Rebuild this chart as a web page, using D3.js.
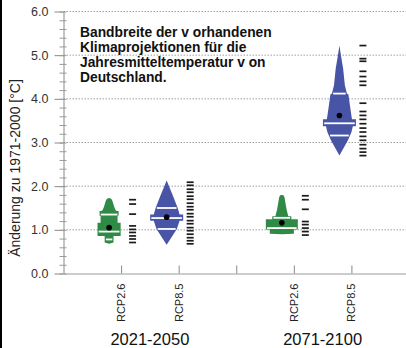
<!DOCTYPE html>
<html><head><meta charset="utf-8">
<script src="https://cdn.jsdelivr.net/npm/d3@7"></script>
<style>body{margin:0;background:#fff}svg{display:block}</style>
</head><body><svg id="c" width="406" height="348"></svg>
<script>
// ---- data ----
const categories = ["RCP2.6", "RCP8.5", "RCP2.6", "RCP8.5"];
const categoryPositions = [1, 2, 4, 5];
const periods = ["2021-2050", "2071-2100"];
const periodPositions = [1.5, 4.5];
const yTicks = [0, 1, 2, 3, 4, 5, 6];
const yMinorTicks = d3.range(0, 30.5, 1).map(d => d / 5);
const titleLines = ["Bandbreite der v orhandenen", "Klimaprojektionen für die", "Jahresmitteltemperatur v on", "Deutschland."];
const yLabel = "Änderung zu 1971-2000 [°C]";

// violin profiles: [temperature change, relative density]
const profileRcp26_2021 = [[1.73,0],[1.72,9],[1.69,17],[1.62,23],[1.54,29],[1.46,37],[1.43,44],[1.43,56],[1.32,56],[1.32,50],[1.16,50],[1.16,68],[0.86,68],[0.86,26],[0.71,26],[0.68,0]];
const profileRcp85_2021 = [[2.13,0],[1.80,35],[1.50,65],[1.35,76],[1.35,97],[1.21,97],[1.21,76],[1.02,60],[0.66,0]];
const profileRcp26_2071 = [[1.80,0],[1.79,10],[1.74,16],[1.60,22],[1.45,29],[1.31,38],[1.31,56],[1.24,56],[1.24,94],[1.01,94],[1.01,71],[0.91,71],[0.90,0]];
const profileRcp85_2071 = [[5.22,0],[4.99,9],[4.69,22],[4.31,32],[4.12,44],[4.10,53],[3.85,62],[3.60,71],[3.53,74],[3.53,97],[3.37,97],[3.37,79],[3.24,71],[3.05,50],[2.70,0]];
const profiles = [profileRcp26_2021, profileRcp85_2021, profileRcp26_2071, profileRcp85_2071];

// percentile lines
const percentiles = [[1.35, 0.96, 0.78], [1.50, 1.27, 1.02], [1.275, 1.04], [4.12, 3.44, 3.16]];
// ensemble means
const means = [1.05, 1.29, 1.16, 3.62];
// individual model results
const rugRcp26_2021 = [1.69, 1.59, 1.36, 1.09, 1.01, 0.94, 0.86, 0.79, 0.71];
const rugRcp85_2021 = [2.09, 2.02, 1.93, 1.86, 1.77, 1.70, 1.61, 1.53, 1.46, 1.37, 1.30, 1.21, 1.14, 1.05, 0.98, 0.90, 0.82, 0.75, 0.68];
const rugRcp26_2071 = [1.78, 1.69, 1.47, 1.19, 1.12, 1.04, 0.96, 0.88];
const rugRcp85_2071 = [5.22, 4.92, 4.86, 4.63, 4.51, 4.40, 4.31, 3.90, 3.71, 3.62, 3.53, 3.43, 3.33, 3.24, 3.14, 3.05, 2.95, 2.86, 2.78, 2.70];
const rugs = [rugRcp26_2021, rugRcp85_2021, rugRcp26_2071, rugRcp85_2071];

// ---- drawing ----
const colors = ["#2f8a46", "#4854a6", "#2f8a46", "#4854a6"];
const svg = d3.select("#c");
const font = "'Liberation Sans', Arial, Helvetica, sans-serif";

const x = d3.scaleLinear().domain([0, 6]).range([63.5, 409]);
const y = d3.scaleLinear().domain([0, 6]).range([273.5, 11.5]);
const w = d3.scaleLinear().domain([0, 100]).range([0, 17]);

svg.append("rect").attr("x", 0).attr("y", 0).attr("width", 2).attr("height", 348).attr("fill", "#000");

// gridlines
svg.append("g").selectAll("line").data(yTicks.filter(d => d > 0)).join("line")
  .attr("x1", x(0)).attr("x2", 406).attr("y1", d => y(d)).attr("y2", d => y(d))
  .attr("stroke", "#a0a0a0").attr("stroke-width", 1).attr("stroke-dasharray", "1.5,1.5");

// y axis
const yAxis = svg.append("g").attr("transform", `translate(${x(0)},0)`)
  .call(d3.axisLeft(y).tickValues(yTicks).tickFormat(d3.format(".1f")).tickSize(9).tickSizeOuter(0).tickPadding(6));
yAxis.select(".domain").attr("stroke", "#8a8a8a");
yAxis.selectAll(".tick line").attr("stroke", "#8a8a8a");
yAxis.selectAll(".tick text").attr("font-family", font).attr("font-size", 12.5).attr("fill", "#333");

const yMinor = svg.append("g").attr("transform", `translate(${x(0) + 3},0)`)
  .call(d3.axisLeft(y).tickValues(yMinorTicks).tickFormat("").tickSize(7).tickSizeOuter(0));
yMinor.select(".domain").remove();
yMinor.selectAll(".tick line").attr("stroke", "#9a9a9a");

// x axis
const xAxis = svg.append("g").attr("transform", `translate(0,${y(0)})`)
  .call(d3.axisBottom(x).tickValues([1, 2, 3, 4, 5]).tickFormat("").tickSize(-8).tickSizeOuter(0));
xAxis.select(".domain").attr("stroke", "#9a9a9a");
xAxis.selectAll(".tick line").attr("stroke", "#8a8a8a");

// category labels
svg.append("g").selectAll("text").data(categories).join("text")
  .attr("transform", (d, i) => `translate(${x(categoryPositions[i]) + 4},${y(0) + 10}) rotate(-90)`)
  .attr("text-anchor", "end").attr("font-family", font).attr("font-size", 11).attr("fill", "#222")
  .text(d => d);

svg.append("g").selectAll("text").data(periods).join("text")
  .attr("x", (d, i) => x(periodPositions[i])).attr("y", 345)
  .attr("text-anchor", "middle").attr("font-family", font).attr("font-size", 16.5).attr("fill", "#111")
  .text(d => d);

// y label
svg.append("text").attr("transform", `translate(20,168) rotate(-90)`)
  .attr("text-anchor", "middle").attr("font-family", font).attr("font-size", 14).attr("fill", "#222")
  .text(yLabel);

// title
svg.append("g").selectAll("text").data(titleLines).join("text")
  .attr("x", 80).attr("y", (d, i) => 37 + i * 15)
  .attr("font-family", font).attr("font-weight", "bold").attr("font-size", 13.8).attr("fill", "#111")
  .text(d => d);

function halfWidthAt(profile, v) {
  let best = 0;
  for (let i = 0; i < profile.length - 1; i++) {
    const a = profile[i], b = profile[i + 1];
    if (a[0] === b[0]) continue;
    if (v <= a[0] && v >= b[0]) {
      const t = (a[0] - v) / (a[0] - b[0]);
      best = Math.max(best, a[1] + t * (b[1] - a[1]));
    }
  }
  return w(best);
}

profiles.forEach((profile, i) => {
  const cx = x(categoryPositions[i]) - 12;
  const area = d3.area().curve(d3.curveLinear)
    .y(d => y(d[0])).x0(d => cx - w(d[1])).x1(d => cx + w(d[1]));
  svg.append("path").datum(profile).attr("d", area).attr("fill", colors[i]);

  svg.append("g").selectAll("line").data(percentiles[i]).join("line")
    .attr("x1", d => cx - halfWidthAt(profile, d) + 1.2).attr("x2", d => cx + halfWidthAt(profile, d) - 1.2)
    .attr("y1", d => y(d)).attr("y2", d => y(d))
    .attr("stroke", "#fff").attr("stroke-width", 1.8);

  svg.append("circle").attr("cx", cx).attr("cy", y(means[i])).attr("r", 2.8).attr("fill", "#000");

  const rx = x(categoryPositions[i]);
  svg.append("g").selectAll("line").data(rugs[i]).join("line")
    .attr("x1", rx + 8).attr("x2", rx + 15)
    .attr("y1", d => y(d)).attr("y2", d => y(d))
    .attr("stroke", "#1a1a1a").attr("stroke-width", 1.7);
});
</script></body></html>
